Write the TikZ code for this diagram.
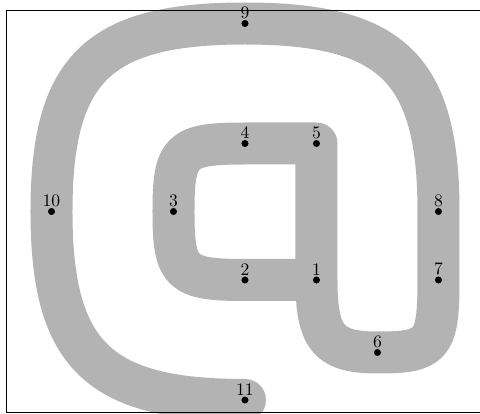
\documentclass[tikz,border=0pt]{standalone}
\usepackage{tikz}
\usetikzlibrary{positioning}
\definecolor{clrBand}{HTML}{B3B3B3}
\definecolor{clrFrame}{HTML}{000000}
\definecolor{clrDot}{HTML}{000000}

\begin{document}
\begin{tikzpicture}[
  band/.style = {
    draw=clrBand,
    line width=0.84cm,
    line cap=round,
    line join=round
  },
  frame/.style = {
    draw=clrFrame,
    line width=0.4pt
  },
  dot/.style = {
    circle,
    fill=clrDot,
    minimum size=4pt,
    inner sep=0pt
  },
  num/.style = {
    inner sep=0pt,
    font=\normalsize
  }
]

% ── page ─────────────────────────────────────────────────────────────────────
\useasboundingbox (-4.9,-2.68) rectangle (4.7,5.6);

% ── points ───────────────────────────────────────────────────────────────────
\coordinate (p1)  at (1.43,0);
\coordinate (p2)  at (0,0);
\coordinate (p3)  at (-1.43,1.37);
\coordinate (p4)  at (0,2.73);
\coordinate (p5)  at (1.43,2.73);
\coordinate (p6)  at (2.65,-1.45);
\coordinate (p7)  at (3.87,0);
\coordinate (p8)  at (3.87,1.37);
\coordinate (p9)  at (0,5.13);
\coordinate (p10) at (-3.87,1.37);
\coordinate (p11) at (0,-2.4);

% ── the band ─────────────────────────────────────────────────────────────────
\draw[band] (p1) -- (p2)
  .. controls +(-1.29,0) and +(0,-1.23) .. (p3)
  .. controls +(0,1.23) and +(-1.29,0) .. (p4)
  -- (p5) -- (p1)
  .. controls +(0,-1.16) and +(-0.98,0) .. (p6)
  .. controls +(1.10,0) and +(0,-1.31) .. (p7)
  -- (p8)
  .. controls +(0,2.86) and +(2.94,0) .. (p9)
  .. controls +(-2.94,0) and +(0,2.86) .. (p10)
  .. controls +(0,-2.87) and +(-2.94,0) .. (p11);

% ── frame ────────────────────────────────────────────────────────────────────
\draw[frame] (-4.77,-2.65) rectangle (4.77,5.39);

% ── dots and numbers ─────────────────────────────────────────────────────────
\node[dot] (d1)  at (p1)  {};
\node[dot] (d2)  at (p2)  {};
\node[dot] (d3)  at (p3)  {};
\node[dot] (d4)  at (p4)  {};
\node[dot] (d5)  at (p5)  {};
\node[dot] (d6)  at (p6)  {};
\node[dot] (d7)  at (p7)  {};
\node[dot] (d8)  at (p8)  {};
\node[dot] (d9)  at (p9)  {};
\node[dot] (d10) at (p10) {};
\node[dot] (d11) at (p11) {};

\node[num, above=0.4pt of d1]  (n1)  {1};
\node[num, above=0.4pt of d2]  (n2)  {2};
\node[num, above=0.4pt of d3]  (n3)  {3};
\node[num, above=0.4pt of d4]  (n4)  {4};
\node[num, above=0.4pt of d5]  (n5)  {5};
\node[num, above=0.4pt of d6]  (n6)  {6};
\node[num, above=0.4pt of d7]  (n7)  {7};
\node[num, above=0.4pt of d8]  (n8)  {8};
\node[num, above=0.4pt of d9]  (n9)  {9};
\node[num, above=0.4pt of d10] (n10) {10};
\node[num, above=0.4pt of d11] (n11) {11};

\end{tikzpicture}
\end{document}
